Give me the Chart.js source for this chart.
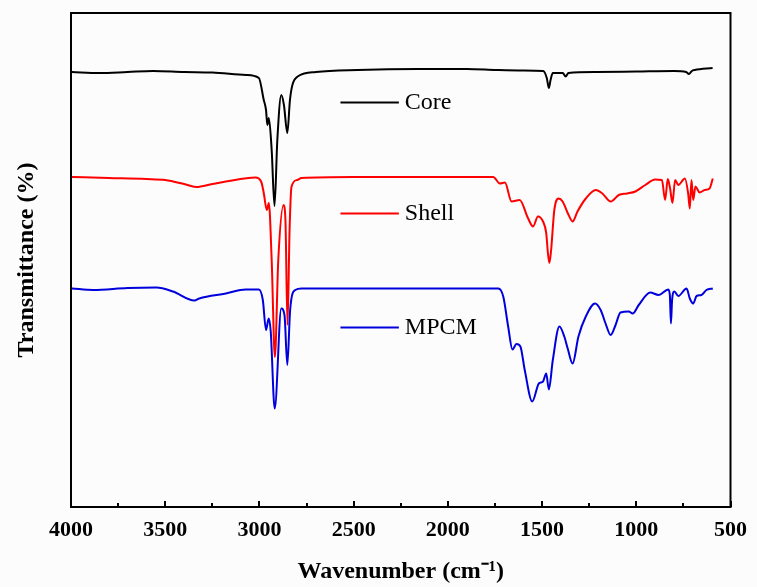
<!DOCTYPE html>
<html>
<head>
<meta charset="utf-8">
<script src="https://cdn.jsdelivr.net/npm/chart.js@4.4.1/dist/chart.umd.min.js"></script>
<style>
  html, body { margin: 0; padding: 0; background: #fcfcfc; }
  #wrap { width: 757px; height: 587px; }
</style>
</head>
<body>
<div id="wrap"><canvas id="ftir" width="757" height="587"></canvas></div>
<script>
// FTIR spectra: Core / Shell / MPCM
const SERIF = '"Liberation Serif", "Times New Roman", serif';

const seriesNames = ['Core', 'Shell', 'MPCM'];
const seriesColors = ['#000000', '#ff0000', '#0000dd'];

// Core (wavenumber cm-1 / transmittance, arbitrary offset)
const coreWn = [3995, 3850, 3700, 3565, 3400, 3250, 3071, 3003, 2977, 2965, 2958, 2950, 2935, 2920, 2905,
  2884, 2870, 2852, 2838, 2825, 2793, 2700, 2478, 2160, 1900, 1742, 1600, 1494, 1475, 1464, 1455, 1443,
  1390, 1375, 1360, 1215, 1000, 800, 735, 721, 705, 690, 595];
const coreT = [87.0, 86.8, 87.0, 87.2, 87.0, 86.9, 86.4, 85.8, 81.4, 79.4, 76.4, 77.8, 71.4, 60.2, 73.4,
  82.4, 80.4, 74.8, 81.4, 84.4, 86.2, 87.0, 87.4, 87.6, 87.6, 87.4, 87.3, 87.2, 85.8, 83.8, 85.4, 86.8,
  86.8, 86.1, 86.8, 87.0, 87.1, 87.2, 87.0, 86.6, 87.2, 87.4, 87.8];

// Shell
const shellWn = [3995, 3800, 3600, 3500, 3400, 3336, 3250, 3178, 3021, 2990, 2977, 2961, 2950, 2935, 2918,
  2900, 2872, 2862, 2851, 2840, 2830, 2800, 2777, 2500, 2000, 1759, 1724, 1697, 1662, 1619, 1575, 1548,
  1522, 1495, 1478, 1469, 1461, 1452, 1435, 1412, 1391, 1364, 1338, 1312, 1268, 1215, 1180, 1136, 1093,
  1049, 1005, 952, 900, 864, 847, 833, 821, 808, 794, 777, 742, 725, 716, 707, 698, 686, 664, 637, 611, 594];
const shellT = [66.0, 65.8, 65.6, 65.4, 64.6, 64.0, 64.6, 65.1, 65.9, 65.0, 62.8, 59.4, 60.8, 49.4, 30.0,
  49.4, 60.4, 57.4, 36.4, 55.4, 64.0, 65.4, 65.8, 66.0, 66.0, 66.0, 64.7, 64.9, 61.1, 61.4, 57.8, 56.1,
  58.1, 57.1, 54.8, 50.8, 48.8, 51.4, 59.4, 61.7, 61.1, 58.8, 57.1, 59.1, 61.7, 63.4, 62.7, 61.1, 62.4,
  62.7, 63.1, 64.4, 65.5, 65.4, 61.4, 65.6, 63.8, 60.8, 65.4, 64.4, 65.7, 62.8, 59.7, 65.4, 61.4, 64.1,
  62.9, 63.4, 63.7, 65.7];

// MPCM
const mpcmWn = [3995, 3882, 3700, 3547, 3459, 3345, 3319, 3178, 3073, 3003, 2982, 2965, 2951, 2940, 2919,
  2884, 2867, 2852, 2837, 2810, 2776, 2400, 2000, 1732, 1706, 1680, 1657, 1636, 1615, 1592, 1552, 1517,
  1495, 1478, 1464, 1443, 1408, 1382, 1364, 1338, 1307, 1268, 1219, 1189, 1163, 1136, 1110, 1084, 1040,
  1019, 987, 926, 882, 830, 822, 816, 810, 798, 777, 733, 716, 698, 680, 654, 628, 594];
const mpcmT = [43.7, 43.4, 43.8, 43.9, 43.1, 41.3, 41.7, 42.7, 43.5, 43.5, 41.4, 35.4, 37.7, 35.1, 19.7,
  39.7, 38.4, 28.4, 39.4, 43.4, 43.7, 43.7, 43.7, 43.7, 42.1, 36.1, 31.5, 32.6, 32.1, 27.4, 21.1, 24.7,
  25.1, 26.7, 23.5, 29.4, 36.1, 34.1, 31.7, 28.7, 34.1, 38.1, 40.7, 39.4, 36.7, 34.4, 36.4, 38.9, 39.1,
  38.7, 40.4, 42.9, 42.4, 43.5, 42.4, 36.7, 41.4, 43.1, 42.2, 43.7, 41.7, 40.7, 42.2, 42.4, 43.4, 43.7];

const xTickValues = [4000, 3500, 3000, 2500, 2000, 1500, 1000, 500];
const xMinorValues = [3750, 3250, 2750, 2250, 1750, 1250, 750];

function toPoints(wn, t) {
  return wn.map((w, i) => ({ x: w, y: t[i] }));
}

// box round the plot + inward tick marks on the bottom axis
const frameAndTicks = {
  id: 'frameAndTicks',
  afterDatasetsDraw(chart) {
    const { ctx, chartArea: a, scales: { x } } = chart;
    ctx.save();
    ctx.strokeStyle = '#000';
    ctx.lineWidth = 2;
    ctx.strokeRect(a.left, a.top, a.right - a.left, a.bottom - a.top);
    ctx.beginPath();
    xTickValues.forEach(v => {
      const px = Math.round(x.getPixelForValue(v));
      ctx.moveTo(px, a.bottom);
      ctx.lineTo(px, a.bottom - 6);
    });
    xMinorValues.forEach(v => {
      const px = Math.round(x.getPixelForValue(v));
      ctx.moveTo(px, a.bottom);
      ctx.lineTo(px, a.bottom - 4);
    });
    ctx.stroke();
    ctx.restore();
  }
};

// legend entries sit inside the plot, next to each trace
const inlineLegend = {
  id: 'inlineLegend',
  afterDatasetsDraw(chart) {
    const { ctx, scales: { x, y } } = chart;
    const levels = [81, 58.8, 36];
    ctx.save();
    ctx.font = '24px ' + SERIF;
    ctx.textBaseline = 'middle';
    chart.data.datasets.forEach((ds, i) => {
      const yy = Math.round(y.getPixelForValue(levels[i])) + 0.5;
      const x1 = x.getPixelForValue(2570);
      const x2 = x.getPixelForValue(2260);
      ctx.strokeStyle = ds.borderColor;
      ctx.lineWidth = 2;
      ctx.beginPath();
      ctx.moveTo(x1, yy);
      ctx.lineTo(x2, yy);
      ctx.stroke();
      ctx.fillStyle = '#000';
      ctx.fillText(ds.label, x2 + 6, yy);
    });
    ctx.restore();
  }
};

const chart = new Chart(document.getElementById('ftir'), {
  type: 'line',
  data: {
    datasets: [
      { label: seriesNames[0], data: toPoints(coreWn, coreT), borderColor: seriesColors[0], order: 0 },
      { label: seriesNames[1], data: toPoints(shellWn, shellT), borderColor: seriesColors[1], order: 1 },
      { label: seriesNames[2], data: toPoints(mpcmWn, mpcmT), borderColor: seriesColors[2], order: 0 }
    ]
  },
  options: {
    responsive: false,
    animation: false,
    layout: { padding: { top: 13, right: 21, left: 0, bottom: 0 } },
    plugins: { legend: { display: false }, tooltip: { enabled: false } },
    elements: {
      point: { radius: 0 },
      line: { borderWidth: 2, cubicInterpolationMode: 'monotone', fill: false }
    },
    scales: {
      x: {
        type: 'linear',
        reverse: true,
        min: 500,
        max: 4000,
        afterBuildTicks: s => { s.ticks = xTickValues.map(v => ({ value: v })); },
        afterFit: s => { s.height = 80; },
        grid: { display: false, drawTicks: false },
        border: { display: false },
        ticks: {
          color: '#000',
          font: { family: SERIF, size: 22, weight: 'bold' },
          padding: 10,
          maxRotation: 0,
          autoSkip: false,
          callback: v => String(v)
        },
        title: {
          display: true,
          text: 'Wavenumber (cm⁻¹)',
          color: '#000',
          font: { family: SERIF, size: 24, weight: 'bold' },
          padding: { top: 0, bottom: 1 }
        }
      },
      y: {
        min: 0,
        max: 98.8,
        afterFit: s => { s.width = 71; },
        grid: { display: false, drawTicks: false },
        border: { display: false },
        ticks: { display: false },
        title: {
          display: true,
          text: 'Transmittance (%)',
          color: '#000',
          font: { family: SERIF, size: 24, weight: 'bold' },
          padding: { top: 12, bottom: 0 }
        }
      }
    }
  },
  plugins: [frameAndTicks, inlineLegend]
});
</script>
</body>
</html>
